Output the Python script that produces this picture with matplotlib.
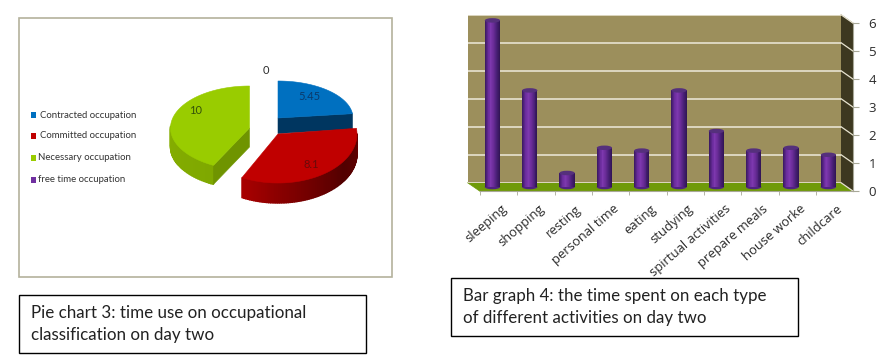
import numpy as np
import matplotlib
matplotlib.use("Agg")
import matplotlib.pyplot as plt
from matplotlib.patches import Polygon, Rectangle, Ellipse
from matplotlib.colors import LinearSegmentedColormap
from matplotlib.transforms import ScaledTranslation

# pie data
pie_labels = ["Contracted occupation", "Committed occupation", "Necessary occupation", "free time occupation"]
pie_values = [5.45, 8.1, 10, 0]
pie_text = ["5.45", "8.1", "10", "0"]
pie_colors = ["#0070C0", "#C00000", "#99CC00", "#7030A0"]

# bar data
activities = ["sleeping", "shopping", "resting", "personal time", "eating", "studying",
              "spirtual activities", "prepare meals", "house worke", "childcare"]
hours = [5.95, 3.45, 0.5, 1.4, 1.3, 3.45, 2.0, 1.3, 1.4, 1.15]
y_ticks = [0, 1, 2, 3, 4, 5, 6]

W, H = 889, 360
TEXT = "#2b2b2b"
FONT = "Lato"


# axes rectangle given in picture pixels
def px_axes(fig, x0, y_top, x1, y_bot, **kw):
    return fig.add_axes([x0 / W, 1 - y_bot / H, (x1 - x0) / W, (y_bot - y_top) / H], **kw)


# one slice of the fake 3d pie, angles clockwise from 12 o'clock
def draw_slice(ax, cx, cy, a, b, depth, t0, t1, top, side_cmap, wall=None):
    th = np.radians(np.linspace(t0, t1, 80))
    xs = cx + a * np.sin(th)
    ys = cy - b * np.cos(th)

    # outer side, only the part facing the viewer
    for i in range(len(th) - 1):
        if np.cos(th[i]) > 0.02:
            continue
        c = side_cmap(i / (len(th) - 2))
        ax.add_patch(Polygon([(xs[i], ys[i]), (xs[i + 1], ys[i + 1]),
                              (xs[i + 1], ys[i + 1] + depth), (xs[i], ys[i] + depth)],
                             fc=c, ec=c, lw=1.0, zorder=2))

    # flat cut wall
    if wall is not None:
        ex, ey = (xs[-1], ys[-1]) if wall[1] == "end" else (xs[0], ys[0])
        ax.add_patch(Polygon([(cx, cy), (ex, ey), (ex, ey + depth), (cx, cy + depth)],
                             fc=wall[0], ec=wall[0], lw=0.4, zorder=2))

    ax.add_patch(Polygon(list(zip(xs, ys)) + [(cx, cy)], fc=top, ec=top, lw=0.4, zorder=3))


fig = plt.figure(figsize=(W / 100, H / 100), dpi=100, facecolor="white")
bg = fig.add_axes([0, 0, 1, 1], zorder=0)
bg.set_xlim(0, W)
bg.set_ylim(H, 0)
bg.axis("off")

# pie frame + caption boxes
bg.add_patch(Rectangle((18.5, 17.5), 373, 259, fc="white", ec="#B4B29C", lw=1.2))
bg.add_patch(Rectangle((18.5, 294.5), 347, 58, fc="white", ec="black", lw=1))
bg.add_patch(Rectangle((450.5, 277.5), 347, 58, fc="white", ec="black", lw=1))
bg.text(31, 313, "Pie chart 3: time use on occupational", fontsize=12.25, family=FONT, color="#222222", va="center")
bg.text(31, 335, "classification on day two", fontsize=12.25, family=FONT, color="#222222", va="center")
bg.text(463, 296, "Bar graph 4: the time spent on each type", fontsize=12.2, family=FONT, color="#222222", va="center")
bg.text(463, 318, "of different activities on day two", fontsize=12.2, family=FONT, color="#222222", va="center")

# pie
cum = np.cumsum([0] + pie_values)
angles = cum / cum[-1] * 360
red_side = LinearSegmentedColormap.from_list("r", ["#640000", "#520000", "#7A0000", "#A80000"])
green_side = LinearSegmentedColormap.from_list("g", ["#7FA800", "#86AE00", "#9ABF10"])
blue_side = LinearSegmentedColormap.from_list("b", ["#003660", "#003660"])
draw_slice(bg, 278, 118, 75, 37, 15.5, angles[0], angles[1], pie_colors[0], blue_side, ("#003660", "end"))
draw_slice(bg, 249.5, 128, 79, 42, 19, angles[2], angles[3], pie_colors[2], green_side, ("#6F9400", "start"))
draw_slice(bg, 278, 134, 79, 49, 20, angles[1], angles[2], pie_colors[1], red_side)

bg.text(309, 97, pie_text[0], fontsize=8, family=FONT, color="#0B3A6B", ha="center", va="center", zorder=5)
bg.text(311, 165, pie_text[1], fontsize=8, family=FONT, color="#6A0A0A", ha="center", va="center", zorder=5)
bg.text(196, 111, pie_text[2], fontsize=8, family=FONT, color="#34520A", ha="center", va="center", zorder=5)
bg.text(266, 70, pie_text[3], fontsize=8, family=FONT, color=TEXT, ha="center", va="center", zorder=5)

# pie legend
legend_y = [115, 136, 158, 180]
legend_x = [40, 40, 38.5, 38.5]
for name, col, ly, lx in zip(pie_labels, pie_colors, legend_y, legend_x):
    bg.add_patch(Rectangle((30.5, ly - 3), 5, 6, fc=col, ec=col, lw=0))
    bg.text(lx, ly, name, fontsize=6.9, family=FONT, color="#333333", va="center")

# box around the bars: back wall, floor, side wall
wall_l, wall_r, wall_b, wall_t = 467.5, 841, 182.7, 14.7
front_l, front_r, front_b, front_t = 480, 853.3, 191.3, 23.3
bg.add_patch(Polygon([(wall_l, wall_b), (wall_r, wall_b), (front_r, front_b), (front_l, front_b)],
                     fc="#6F9A0A", ec="#6F9A0A", lw=0.5))
bg.add_patch(Polygon([(wall_r, wall_t), (front_r, front_t), (front_r, front_b), (wall_r, wall_b)],
                     fc="#3D3820", ec="#3D3820", lw=0.5))
unit = (wall_b - wall_t) / 6
for v in y_ticks:
    bg.plot([wall_r, front_r], [wall_b - v * unit, front_b - v * unit], color="#E8E4D0", lw=0.9, zorder=2)

ax_wall = px_axes(fig, wall_l, wall_t, wall_r, wall_b, zorder=1, facecolor="#9C8F5C")
ax_wall.set_ylim(0, 6)
ax_wall.set_xlim(0, 10)
ax_wall.set_xticks([])
ax_wall.set_yticks(y_ticks)
ax_wall.tick_params(left=False, labelleft=False)
ax_wall.grid(axis="y", color="#EDEADB", lw=1.1)
ax_wall.set_axisbelow(True)
for s in ax_wall.spines.values():
    s.set_visible(False)

# front plane: holds the tick marks and labels
ax_front = px_axes(fig, front_l, front_t, front_r, front_b, zorder=2)
ax_front.patch.set_alpha(0)
ax_front.set_xlim(-0.5, 9.5)
ax_front.set_ylim(0, 6)
ax_front.spines["top"].set_visible(False)
ax_front.spines["left"].set_visible(False)
ax_front.spines["right"].set_color("#A8A898")
ax_front.spines["bottom"].set_color("#A8A898")
ax_front.yaxis.tick_right()
ax_front.set_yticks(y_ticks)
ax_front.set_yticklabels([str(v) for v in y_ticks], fontsize=9.5, family="Open Sans", color=TEXT)
ax_front.tick_params(axis="y", color="#A8A898", length=4, direction="out", pad=7)
ax_front.set_xticks(np.arange(10) - 0.5, minor=True)
ax_front.tick_params(axis="x", which="minor", color="#A8A898", length=3, direction="out")
ax_front.set_xticks(np.arange(10))
ax_front.set_xticklabels(activities, fontsize=9.4, family="Open Sans", color=TEXT,
                         rotation=41, ha="right", rotation_mode="anchor")
ax_front.tick_params(axis="x", which="major", length=0, pad=8)
# labels end a little right of the category centre
shift = ScaledTranslation(2 / 100, 0, fig.dpi_scale_trans)
for lab in ax_front.get_xticklabels():
    lab.set_transform(lab.get_transform() + shift)

# bars sit half way between wall and front plane
dx, dy = (front_l - wall_l) / 2, (front_b - wall_b) / 2
ax_bar = px_axes(fig, front_l - dx, front_t - dy, front_r - dx, front_b - dy, zorder=3)
ax_bar.set_xlim(-0.5, 9.5)
ax_bar.set_ylim(0, 6)
ax_bar.axis("off")

bar_w = 0.41
n_strips = 16
shade = LinearSegmentedColormap.from_list("cyl", ["#3E1A66", "#6A2C9C", "#7D38AE", "#6A2C98", "#4A2078", "#331558"])
x = np.arange(len(hours))
cap_h = 4.5 / unit
for i, v in zip(x, hours):
    ax_bar.add_patch(Ellipse((i, 0), bar_w, cap_h, fc="#4F2380", ec="none", zorder=1, clip_on=False))
    ax_bar.add_patch(Ellipse((i, v), bar_w, cap_h, fc="#55307C", ec="none", zorder=3, clip_on=False))
for k in range(n_strips):
    off = (k + 0.5) / n_strips - 0.5
    ax_bar.bar(x + off * bar_w, hours, width=bar_w / n_strips * 1.05, color=shade(k / (n_strips - 1)),
               linewidth=0, zorder=2)

fig.savefig("out.png", dpi=100)
